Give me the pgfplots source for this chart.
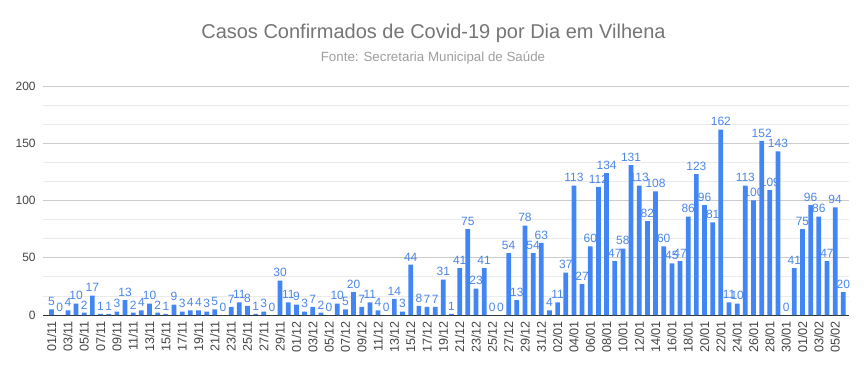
\documentclass[border=0pt]{standalone}
\usepackage{fontspec}
\setmainfont{Liberation Sans}
\usepackage{pgfplots}
\pgfplotsset{compat=1.18}
\usepackage{pgfplotstable}
\definecolor{barblue}{HTML}{4285F4}
\definecolor{lblblue}{HTML}{4A86E8}
\definecolor{titlegray}{HTML}{757575}
\definecolor{subgray}{HTML}{9E9E9E}
\definecolor{tickgray}{HTML}{444444}
\definecolor{gridmaj}{HTML}{CCCCCC}
\definecolor{gridmin}{HTML}{EBEBEB}

\pgfplotstableread{
x y lab
0 5 5
1 0 0
2 4 4
3 10 10
4 2 2
5 17 17
6 1 1
7 1 1
8 3 3
9 13 13
10 2 2
11 4 4
12 10 10
13 2 2
14 1 1
15 9 9
16 3 3
17 4 4
18 4 4
19 3 3
20 5 5
21 0 0
22 7 7
23 11 11
24 8 8
25 1 1
26 3 3
27 0 0
28 30 30
29 11 11
30 9 9
31 3 3
32 7 7
33 2 2
34 0 0
35 10 10
36 5 5
37 20 20
38 7 7
39 11 11
40 4 4
41 0 0
42 14 14
43 3 3
44 44 44
45 8 8
46 7 7
47 7 7
48 31 31
49 1 1
50 41 41
51 75 75
52 23 23
53 41 41
54 0 0
55 0 0
56 54 54
57 13 13
58 78 78
59 54 54
60 63 63
61 4 4
62 11 11
63 37 37
64 113 113
65 27 27
66 60 60
67 112 112
68 124 134
69 47 47
70 58 58
71 131 131
72 113 113
73 82 82
74 108 108
75 60 60
76 45 45
77 47 47
78 86 86
79 123 123
80 96 96
81 81 81
82 162 162
83 11 11
84 10 10
85 113 113
86 100 100
87 152 152
88 109 109
89 143 143
90 0 0
91 41 41
92 75 75
93 96 96
94 86 86
95 47 47
96 94 94
97 20 20
}\data

\begin{document}
\begin{tikzpicture}
\path[use as bounding box] (0,0) rectangle (650.25pt,278.25pt);
\node[text=titlegray, font=\fontsize{15}{18}\selectfont] at (325.1pt,253.5pt) {Casos Confirmados de Covid-19 por Dia em Vilhena};
\node[text=subgray, font=\fontsize{10}{12}\selectfont] at (324.75pt,234.75pt) {Fonte: Secretaria Municipal de Saúde};
\begin{axis}[
  at={(32.25pt,42pt)}, anchor=south west,
  scale only axis, width=604.5pt, height=171.75pt,
  xmin=-1.05, xmax=97.7, ymin=0, ymax=200,
  /pgf/number format/assume math mode=true,
  separate axis lines,
  axis x line*=bottom, axis y line*=left,
  y axis line style={draw=none},
  x axis line style={draw=black!80, line width=0.7pt},
  major tick length=0pt, minor tick length=0pt,
  ytick={0,50,100,150,200},
  minor y tick num=2,
  ymajorgrids, yminorgrids,
  major grid style={draw=gridmaj, line width=0.6pt},
  minor grid style={draw=gridmin, line width=0.6pt},
  yticklabel style={font=\fontsize{9}{10}\selectfont, text=tickgray},
  yticklabel shift=2pt,
  xtick={0,2,...,96},
  xticklabels={01/11,03/11,05/11,07/11,09/11,11/11,13/11,15/11,17/11,19/11,21/11,23/11,25/11,27/11,29/11,01/12,03/12,05/12,07/12,09/12,11/12,13/12,15/12,17/12,19/12,21/12,23/12,25/12,27/12,29/12,31/12,02/01,04/01,06/01,08/01,10/01,12/01,14/01,16/01,18/01,20/01,22/01,24/01,26/01,28/01,30/01,01/02,03/02,05/02},
  xticklabel style={rotate=90, anchor=east, font=\fontsize{9.5}{10}\selectfont, text=tickgray},
  xticklabel shift=1pt,
  clip=false,
  ybar, bar width=0.58,
  nodes near coords,
  point meta=explicit symbolic,
  every node near coord/.append style={font=\fontsize{9}{10}\selectfont, text=lblblue, anchor=south, inner sep=1.5pt, yshift=1pt},
]
\addplot[fill=barblue, draw=none] table[x=x, y=y, meta=lab] {\data};
\end{axis}
\end{tikzpicture}
\end{document}
